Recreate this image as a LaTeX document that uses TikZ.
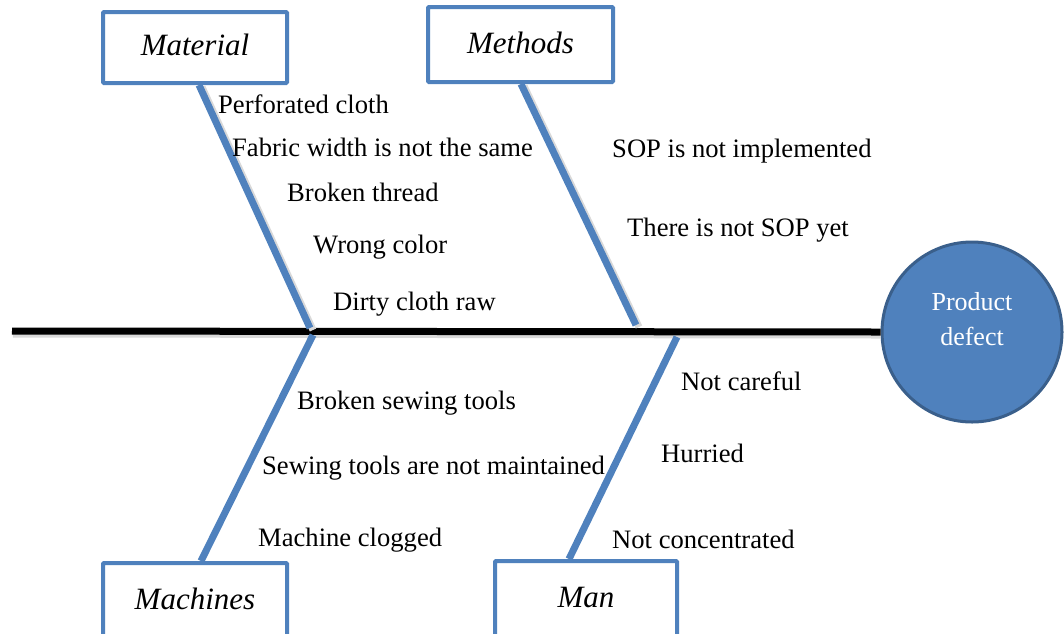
\documentclass[tikz,border=0pt]{standalone}
\usepackage{fontspec}
\setmainfont{Liberation Serif}
\definecolor{bone}{HTML}{4F81BD}
\definecolor{ringline}{HTML}{3A5F8B}
\begin{document}
\begin{tikzpicture}[x=1pt,y=-1pt,
  catbox/.style={draw=bone,line width=4pt,fill=white,rounded corners=1pt,inner sep=0pt,
    font=\fontsize{31}{36}\selectfont\itshape},
  bonel/.style={draw=bone,line width=7pt},
  shadowl/.style={draw=black!15,line width=7pt},
  cause/.style={anchor=west,inner sep=0pt,text height=0.7em,text depth=0.2em,yshift=-6pt,
    font=\fontsize{26.6}{32}\selectfont}]
\useasboundingbox (0,0) rectangle (1064,633);
% spine
\coordinate (tail) at (12,331);
\node[circle,draw=ringline,line width=3pt,fill=bone,minimum size=180pt,inner sep=0pt,
  label={[text=white,align=center,font=\fontsize{26}{35}\selectfont,yshift=13pt]center:Product\\defect}]
  (effect) at (972,332) {};
\draw[shadowl] ([shift={(1,3)}]tail) -- ([shift={(0,3)}]effect.west);
\draw[line width=7pt] (tail) -- (effect.west);
% category boxes
\node[catbox,minimum width=184pt,minimum height=71pt,text depth=0.5em] (material) at (195,47.5) {Material};
\node[catbox,minimum width=185pt,minimum height=75pt,text depth=0.45em] (methods) at (520.5,44.5) {Methods};
\node[catbox,minimum width=184pt,minimum height=76pt,text depth=0.45em] (machines) at (195,601) {Machines};
\node[catbox,minimum width=182pt,minimum height=78pt,text depth=0.45em] (man) at (586,600) {Man};
% bone ends
\coordinate (matTop) at (199,85);
\coordinate (matEnd) at (310,328);
\coordinate (metTop) at (521,84);
\coordinate (metEnd) at (636,325);
\coordinate (macTop) at (313,335);
\coordinate (macEnd) at (201,561);
\coordinate (manTop) at (677,337);
\coordinate (manEnd) at (569,559);
\draw[shadowl] ([shift={(3,2)}]matTop) -- ([shift={(3,2)}]matEnd);
\draw[shadowl] ([shift={(3,2)}]metTop) -- ([shift={(3,2)}]metEnd);
\draw[bonel] (matTop) -- (matEnd);
\draw[bonel] (metTop) -- (metEnd);
\draw[bonel] (macTop) -- (macEnd);
\draw[bonel] (manTop) -- (manEnd);
% causes
\node[cause] (c1) at (218,105) {Perforated cloth};
\node[cause] (c2) at (232,148) {Fabric width is not the same};
\node[cause] (c3) at (287,193) {Broken thread};
\node[cause] (c4) at (313,245) {Wrong color};
\node[cause] (c5) at (333,302) {Dirty cloth raw};
\node[cause] (c6) at (612,149) {SOP is not implemented};
\node[cause] (c7) at (627,228) {There is not SOP yet};
\node[cause] (c8) at (297,401) {Broken sewing tools};
\node[cause] (c9) at (262,466) {Sewing tools are not maintained};
\node[cause] (c10) at (258,538) {Machine clogged};
\node[cause] (c11) at (681,382) {Not careful};
\node[cause] (c12) at (661,454) {Hurried};
\node[cause] (c13) at (612,540) {Not concentrated};
\end{tikzpicture}
\end{document}
